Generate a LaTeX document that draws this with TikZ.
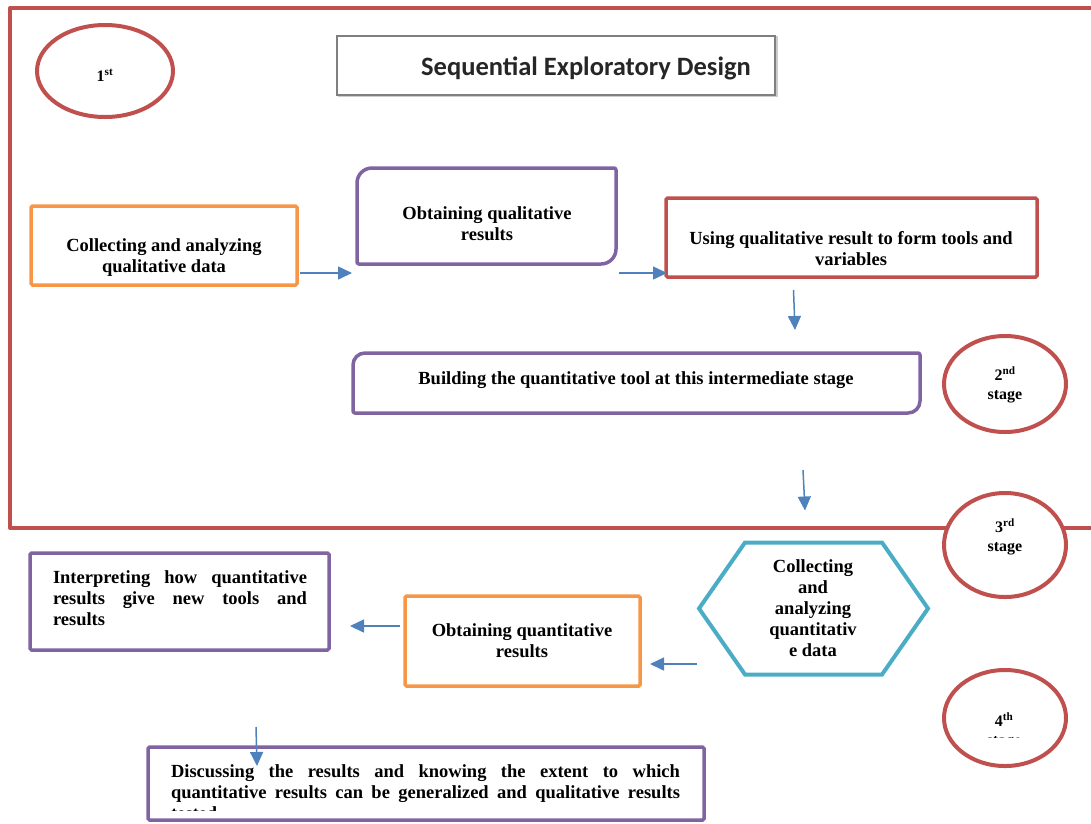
\documentclass[tikz,border=0pt]{standalone}
\usepackage{fontspec}
\setmainfont{Liberation Serif}
\newfontfamily\titlefont{Carlito}
\usetikzlibrary{arrows.meta,calc,shapes.geometric}
\definecolor{cred}{HTML}{C0504D}
\definecolor{cpurple}{HTML}{8064A2}
\definecolor{corange}{HTML}{F79646}
\definecolor{cteal}{HTML}{4BACC6}
\definecolor{cblue}{HTML}{4F81BD}
\definecolor{cgray}{HTML}{7F7F7F}
\begin{document}
\begin{tikzpicture}[x=1pt,y=-1pt,
  box/.style={draw,line width=3.5pt,rectangle,rounded corners=1.5pt,inner sep=0pt,outer sep=0pt},
  txt/.style={align=center,inner sep=0pt,font=\fontsize{18.5}{21}\selectfont\bfseries},
  stagebox/.style={ellipse,draw=cred,line width=4pt,fill=white,inner sep=0pt,outer sep=0pt},
  stagetxt/.style={align=center,inner sep=0pt,font=\fontsize{16}{19}\selectfont\bfseries},
  arr/.style={draw=cblue,line width=1.5pt,-{Triangle[length=14pt,width=13pt]}},
  soft/.style={line width=3.5pt,line join=round}
]
\useasboundingbox (0,0) rectangle (1091,823);
\clip (0,0) rectangle (1091,823);

% outer frame
\draw[cred,line width=4pt,line join=round] (1100,8) -- (10,8) -- (10,528) -- (1100,528);

% stage ellipses
\node[stagebox,minimum width=136pt,minimum height=92pt] (e1) at (105,71) {};
\node[stagetxt] (e1t) at (105,75) {1\textsuperscript{st}};
\node[stagebox,minimum width=122pt,minimum height=96pt] (e2) at (1005,384) {};
\node[stagetxt] (e2t) at (1005,385) {2\textsuperscript{nd}\\stage};
\node[stagebox,minimum width=122pt,minimum height=104pt] (e3) at (1005,545) {};
\node[stagetxt] (e3t) at (1005,537) {3\textsuperscript{rd}\\stage};
\node[stagebox,minimum width=122pt,minimum height=96pt] (e4) at (1005,718) {};
\begin{scope}
  \clip (940,700) rectangle (1070,737);
  \node[stagetxt] (e4t) at (1004,731) {4\textsuperscript{th}\\stage};
\end{scope}

% title
\node[draw=cgray!40,line width=2pt,minimum width=438pt,minimum height=59pt,inner sep=0pt,outer sep=0pt] (tbs) at (557.5,66.5) {};
\node[draw=cgray,line width=1.5pt,fill=white,minimum width=438pt,minimum height=59pt,inner sep=0pt,outer sep=0pt] (tb) at (556,65.5) {};
\node[inner sep=0pt,font=\titlefont\fontsize{26.5}{30}\selectfont\bfseries,text=black!85] (tbt) at (586,68) {Sequential Exploratory Design};

% box 1
\node[box,draw=corange,minimum width=266pt,minimum height=79pt] (b1) at (164,245.5) {};
\node[txt] (b1t) at (164,257.5) {Collecting and analyzing\\qualitative data};

% box 2 (two rounded corners)
\node[minimum width=259pt,minimum height=96pt,inner sep=0pt,outer sep=0pt] (b2) at (486.5,216) {};
\draw[cpurple,soft] (b2.west) [rounded corners=15pt] -- (b2.north west) -- (b2.north) [rounded corners=2pt] -- (b2.north east) -- (b2.east) [rounded corners=15pt] -- (b2.south east) -- (b2.south) [rounded corners=2pt] -- (b2.south west) -- cycle;
\node[txt] (b2t) at (487,223.5) {Obtaining qualitative\\results};

% box 3
\node[box,draw=cred,minimum width=371pt,minimum height=79pt] (b3) at (851.5,237.5) {};
\node[txt] (b3t) at (851,249) {Using qualitative result to form tools and\\variables};

% box 4 (two rounded corners)
\node[minimum width=567pt,minimum height=60pt,inner sep=0pt,outer sep=0pt] (b4) at (636.5,383) {};
\draw[cpurple,soft] (b4.west) [rounded corners=12pt] -- (b4.north west) -- (b4.north) [rounded corners=2pt] -- (b4.north east) -- (b4.east) [rounded corners=12pt] -- (b4.south east) -- (b4.south) [rounded corners=2pt] -- (b4.south west) -- cycle;
\node[txt] (b4t) at (636,380.5) {Building the quantitative tool at this intermediate stage};

% hexagon
\node[minimum width=229pt,minimum height=132pt,inner sep=0pt,outer sep=0pt] (hex) at (813.5,608.5) {};
\draw[cteal,line width=4pt,line join=miter] (hex.west) -- ($(hex.north west)+(46,0)$) -- ($(hex.north east)+(-46,0)$) -- (hex.east) -- ($(hex.south east)+(-46,0)$) -- ($(hex.south west)+(46,0)$) -- cycle;
\node[txt] (hext) at (813,608.5) {Collecting\\and\\analyzing\\quantitativ\\e data};

% box 5
\node[box,draw=corange,minimum width=235pt,minimum height=90pt] (b5) at (522.5,641) {};
\node[txt] (b5t) at (522,641) {Obtaining quantitative\\results};

% box 6
\node[box,draw=cpurple,minimum width=299pt,minimum height=97pt] (b6) at (179.5,601.5) {};
\node[txt,align=left] (b6t) at (180,598) {\makebox[254pt][s]{Interpreting how quantitative}\\\makebox[254pt][s]{results give new tools and}\\results};

% box 7
\node[box,draw=cpurple,minimum width=556pt,minimum height=73pt] (b7) at (426,783.5) {};
\begin{scope}
  \clip (150,750) rectangle (700,810.5);
  \node[txt,align=left] (b7t) at (425.5,792) {\makebox[509pt][s]{Discussing the results and knowing the extent to which}\\\makebox[509pt][s]{quantitative results can be generalized and qualitative results}\\tested};
\end{scope}

% arrows
\draw[arr] ($(b1.south east)+(3,-12)$) -- ($(b2.south west)+(-5,9)$);
\draw[arr] ($(b2.south east)+(3,9)$) -- ($(b3.south west)+(1,-4)$);
\draw[arr] ($(b3.south)+(-58,13)$) -- ($(b4.north)+(158.5,-23)$);
\draw[arr] ($(b4.south)+(166.5,57)$) -- ($(hex.north)+(-8.5,-32)$);
\draw[arr] ($(hex.south west)+(-2,-10.5)$) -- ($(b5.south east)+(10,-22)$);
\draw[arr] ($(b5.north west)+(-5,30)$) -- ($(b6.north east)+(21,73)$);
\draw[arr] ($(b6.south)+(76.5,77)$) -- ($(b7.north west)+(109,19)$);
\end{tikzpicture}
\end{document}
